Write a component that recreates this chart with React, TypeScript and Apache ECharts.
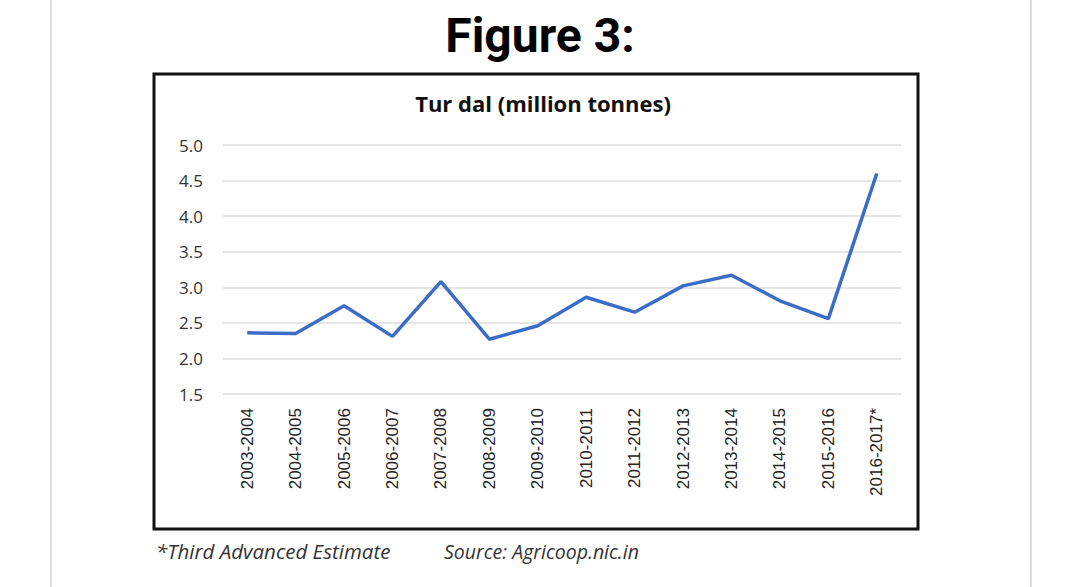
import React, { useEffect, useRef } from "react";
import * as echarts from "echarts";

const categories = [
  "2003-2004", "2004-2005", "2005-2006", "2006-2007", "2007-2008", "2008-2009", "2009-2010",
  "2010-2011", "2011-2012", "2012-2013", "2013-2014", "2014-2015", "2015-2016", "2016-2017*",
];
const turDal = [2.36, 2.35, 2.74, 2.31, 3.08, 2.27, 2.46, 2.86, 2.65, 3.02, 3.17, 2.81, 2.56, 4.6];
const yMin = 1.5;
const yMax = 5.0;
const yStep = 0.5;

export default function App() {
  const ref = useRef<HTMLDivElement>(null);
  useEffect(() => {
    if (!ref.current) return;
    const chart = echarts.init(ref.current, undefined, { renderer: "svg" });
    chart.setOption({
      animation: false,
      backgroundColor: "#ffffff",
      title: {
        text: "Figure 3:",
        left: "center",
        top: 6,
        textStyle: { fontFamily: "Roboto", fontWeight: "bold", fontSize: 48, color: "#000" },
      },
      grid: { left: 223, right: 179, top: 145, bottom: 193 },
      xAxis: {
        type: "category",
        data: categories,
        boundaryGap: true,
        axisLine: { show: false },
        axisTick: { show: false },
        axisLabel: {
          rotate: 90,
          margin: 14,
          interval: 0,
          fontFamily: "Liberation Sans",
          fontSize: 17,
          color: "#222",
        },
      },
      yAxis: {
        type: "value",
        min: yMin,
        max: yMax,
        interval: yStep,
        axisLine: { show: false },
        axisTick: { show: false },
        splitLine: { lineStyle: { color: "#dcdcdc", width: 1.5 } },
        axisLabel: {
          margin: 20,
          fontFamily: "Open Sans",
          fontSize: 17,
          color: "#333",
          formatter: (v: number) => v.toFixed(1),
        },
      },
      series: [
        {
          type: "line",
          data: turDal,
          symbol: "none",
          lineStyle: { color: "#3b6cc6", width: 3.5 },
        },
      ],
      graphic: [
        { type: "line", shape: { x1: 51, y1: 0, x2: 51, y2: 587 }, style: { stroke: "#dddddd", lineWidth: 2 } },
        { type: "line", shape: { x1: 1031, y1: 0, x2: 1031, y2: 587 }, style: { stroke: "#dddddd", lineWidth: 2 } },
        {
          type: "rect",
          shape: { x: 154, y: 74, width: 764, height: 455 },
          style: { fill: "none", stroke: "#111", lineWidth: 3 },
          z: 10,
        },
        {
          type: "text",
          x: 543,
          y: 103,
          style: {
            text: "Tur dal (million tonnes)",
            fontFamily: "Open Sans",
            fontWeight: "bold",
            fontSize: 22,
            fill: "#111",
            textAlign: "center",
            textVerticalAlign: "middle",
          },
        },
        {
          type: "text",
          x: 156,
          y: 551,
          style: {
            text: "*Third Advanced Estimate",
            fontFamily: "Open Sans",
            fontStyle: "italic",
            fontSize: 20.5,
            fill: "#333",
            textAlign: "left",
            textVerticalAlign: "middle",
          },
        },
        {
          type: "text",
          x: 444,
          y: 551,
          style: {
            text: "Source: Agricoop.nic.in",
            fontFamily: "Open Sans",
            fontStyle: "italic",
            fontSize: 19.5,
            fill: "#333",
            textAlign: "left",
            textVerticalAlign: "middle",
          },
        },
      ],
    });
    return () => chart.dispose();
  }, []);
  return (
    <div
      ref={ref}
      style={{ position: "fixed", left: 0, top: 0, width: 1080, height: 587 }}
    />
  );
}
